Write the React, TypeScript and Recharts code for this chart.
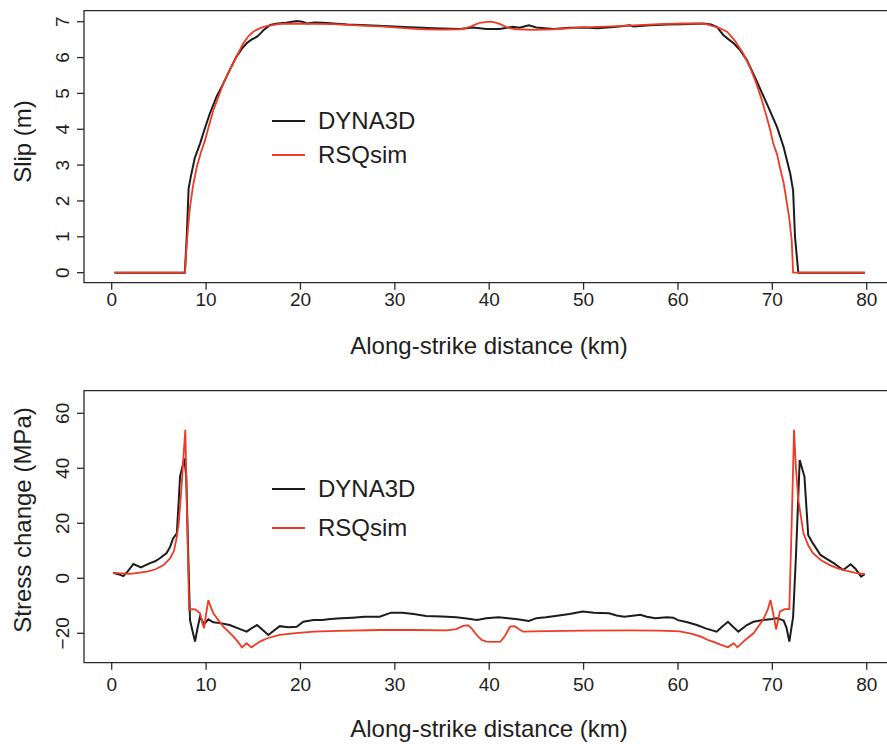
import React from 'react';
import { LineChart, Line, XAxis, YAxis, ReferenceArea, Legend } from 'recharts';

// ---------- data ----------
const xTicks = [0, 10, 20, 30, 40, 50, 60, 70, 80];
const slipTicks = [0, 1, 2, 3, 4, 5, 6, 7];
const stressTicks = [-20, 0, 20, 40, 60];
const seriesNames = ['DYNA3D', 'RSQsim'];

const slipDynaKm = [0.3, 7.75, 7.95, 8.15, 8.4, 8.8, 9.36, 9.9, 10.4, 11.1, 11.83, 12.5, 13.2, 13.8, 14.3, 14.8, 15.4, 15.8, 16.1, 16.8, 17.6, 18.5, 19.6, 20.2, 20.7, 21.5, 22.4, 23.5, 25, 27, 28.8, 31, 34.1, 36.9, 38.3, 39.7, 41.1, 42.5, 43.2, 44.2, 45, 46.8, 48.5, 50, 51.5, 53.5, 54.9, 55.3, 57, 58.9, 60.4, 62.7, 63.5, 64.1, 64.8, 65.4, 65.9, 66.6, 67.3, 68.3, 69.4, 70.5, 71.2, 71.9, 72.2, 72.4, 72.75, 79.8];
const slipDynaM = [0, 0, 1.0, 2.35, 2.7, 3.2, 3.6, 4.05, 4.44, 4.9, 5.28, 5.65, 6.02, 6.25, 6.4, 6.5, 6.58, 6.68, 6.77, 6.91, 6.95, 6.97, 7.02, 7.0, 6.95, 6.98, 6.97, 6.95, 6.92, 6.9, 6.88, 6.85, 6.82, 6.8, 6.84, 6.8, 6.8, 6.86, 6.83, 6.9, 6.84, 6.8, 6.83, 6.84, 6.82, 6.86, 6.9, 6.87, 6.9, 6.92, 6.93, 6.95, 6.92, 6.86, 6.63, 6.5, 6.4, 6.2, 5.93, 5.37, 4.72, 4.06, 3.5, 2.76, 2.29, 1.0, 0, 0];

const slipRsqKm = [0.3, 7.77, 7.9, 8.1, 8.3, 8.6, 9.01, 9.45, 9.89, 10.3, 10.77, 11.3, 11.83, 12.35, 12.88, 13.4, 13.95, 14.5, 15.0, 15.7, 16.4, 17.8, 19.5, 21.4, 23.5, 26, 28.8, 31, 33, 35, 36.9, 37.5, 38.0, 38.5, 39.0, 39.6, 40.1, 40.6, 41.1, 41.5, 41.9, 42.4, 42.9, 44.7, 46.8, 50, 53, 55.3, 58, 60.6, 62, 63, 63.7, 64.4, 65.2, 66.0, 66.9, 67.6, 68.3, 68.9, 69.4, 69.8, 70.1, 70.5, 70.8, 71.2, 71.5, 71.8, 72.05, 72.2, 79.8];
const slipRsqM = [0, 0, 0.6, 1.3, 1.83, 2.4, 2.94, 3.35, 3.69, 4.1, 4.53, 4.9, 5.28, 5.58, 5.84, 6.12, 6.4, 6.6, 6.72, 6.82, 6.88, 6.94, 6.95, 6.94, 6.93, 6.9, 6.86, 6.82, 6.79, 6.78, 6.79, 6.82, 6.86, 6.92, 6.97, 6.99, 7.0, 6.98, 6.94, 6.89, 6.84, 6.81, 6.79, 6.77, 6.79, 6.84, 6.87, 6.9, 6.93, 6.95, 6.95, 6.93, 6.88, 6.82, 6.72, 6.48, 6.12, 5.75, 5.28, 4.8, 4.34, 3.95, 3.6, 3.3, 2.94, 2.5, 2.01, 1.5, 0.9, 0, 0];

const stressDynaKm = [0.17, 0.7, 1.23, 1.7, 2.3, 3.1, 3.6, 4.06, 4.6, 5.1, 5.8, 6.2, 6.5, 6.9, 7.1, 7.24, 7.7, 7.9, 8.1, 8.3, 8.55, 8.83, 9.1, 9.36, 9.78, 10.24, 10.77, 11.5, 12.5, 13.4, 14.3, 14.8, 15.4, 16.0, 16.6, 17.2, 17.8, 18.7, 19.6, 20.3, 21.4, 22.3, 23.2, 24.3, 25.5, 26.8, 28.4, 29.6, 30.8, 32, 33.3, 35, 36.5, 37.6, 38.7, 39.7, 41.0, 42, 43.0, 44.2, 45.0, 46, 47.0, 48.5, 49.9, 51.1, 52.7, 53.5, 54.3, 55.2, 56.0, 56.7, 57.6, 58.8, 59.5, 60.0, 61, 62.0, 63, 64.1, 64.7, 65.3, 65.8, 66.4, 67.3, 68.0, 69.0, 70.0, 70.5, 71.2, 71.5, 71.8, 72.2, 72.5, 72.9, 73.4, 73.8, 74.3, 75.1, 75.8, 76.5, 77.0, 77.5, 78.3, 78.8, 79.4, 79.8];
const stressDynaMPa = [2.0, 1.5, 0.8, 2.5, 5.2, 4.0, 4.8, 5.5, 6.2, 7.3, 9.1, 11.5, 14.5, 16.3, 28, 37, 43.6, 37, 10, -15.2, -19, -23, -18, -14, -16.7, -14.9, -16, -16.3, -17, -18.2, -19.4, -18.2, -17, -18.8, -20.6, -19, -17.4, -17.8, -17.6, -15.8, -15.2, -15.2, -14.8, -14.5, -14.3, -14, -14, -12.5, -12.5, -13, -13.7, -13.9, -14.2, -14.6, -15.2, -14.5, -14.2, -14.5, -14.9, -15.5, -14.5, -14.2, -13.7, -13, -12.1, -12.5, -12.7, -13.5, -14, -13.6, -13.3, -14, -14.5, -14.2, -14.3, -15.2, -16, -17, -18.3, -19.4, -17.5, -15.8, -17.5, -19.4, -17, -15.8, -15.2, -14.8, -14.5, -15.4, -18, -23, -14, 7.9, 43, 37, 15.7, 12.7, 8.5, 7, 5.5, 4.3, 3, 5.1, 3.5, 0.6, 1.5];

const stressRsqKm = [0.17, 1.0, 1.94, 2.8, 3.7, 4.6, 5.5, 6.2, 6.6, 6.9, 7.1, 7.24, 7.45, 7.6, 7.8, 7.97, 8.2, 8.5, 8.83, 9.1, 9.36, 9.6, 9.78, 10.0, 10.24, 10.5, 10.77, 11.3, 11.83, 12.4, 12.9, 13.4, 13.8, 14.3, 14.8, 15.2, 15.7, 16.5, 17.8, 19.5, 21.4, 24, 28.4, 32, 35.5, 36.5, 37.3, 37.8, 38.2, 38.7, 39.2, 39.7, 40.5, 41.2, 41.7, 42.2, 42.7, 43.2, 43.6, 46, 50, 55, 58, 60.2, 61.5, 62.5, 63.3, 63.7, 64.5, 65.3, 65.9, 66.3, 67.1, 68.0, 69.0, 69.5, 69.8, 70.1, 70.4, 70.8, 71.3, 71.8, 72.05, 72.3, 72.5, 72.75, 73.3, 73.8, 74.3, 75.2, 76.1, 77.0, 77.9, 78.8, 79.8];
const stressRsqMPa = [2.0, 1.8, 1.6, 2.0, 2.4, 3.2, 4.8, 7.3, 10, 15.1, 20, 26, 36, 44, 54, 26, -11.5, -11.2, -11.3, -12, -12.7, -16, -18.2, -13, -7.9, -10.5, -12.7, -15.2, -17.6, -19.5, -21.2, -23.2, -25.1, -23.6, -25.1, -24.2, -23, -21.8, -20.6, -19.9, -19.4, -19.1, -18.8, -18.8, -18.9, -18.5, -17.2, -17.1, -18.5, -20.8, -22.4, -23.0, -23.1, -23.0, -20.8, -17.6, -17.4, -18.6, -19.4, -19.2, -19.0, -18.9, -19, -19.3, -20.2, -21.3, -22.6, -23, -24.1, -25.1, -23.6, -25.1, -22.5, -20, -15.2, -11.5, -7.9, -13, -18.6, -12.1, -11.2, -11.2, 20, 54, 40, 28.5, 16.4, 12, 9.1, 6.5, 4.8, 3.5, 2.7, 2.0, 1.5];

// ---------- helpers ----------
const pts = (xs: number[], ys: number[]) => xs.map((x, i) => ({ x, y: ys[i] }));

const FONT = '"Liberation Sans", Arial, Helvetica, sans-serif';
const BLACK = '#1c1c1c';
const RED = '#ef3a26';
const TXT = '#1e1e1e';

const xDomain: [number, number] = [-2.935, 82.89];
const slipDomain: [number, number] = [-0.28, 7.307];
const stressDomain: [number, number] = [-30.69, 68.22];

const fmt = (v: number) => (v < 0 ? '\u2212' + Math.abs(v) : String(v));

const RotTick = (props: any) => {
  const { x, y, payload } = props;
  return (
    <text
      x={x}
      y={y}
      transform={`rotate(-90 ${x} ${y})`}
      textAnchor="middle"
      dominantBaseline="central"
      fontSize={19}
      fontFamily={FONT}
      fill={TXT}
    >
      {fmt(payload.value)}
    </text>
  );
};

const XTick = (props: any) => {
  const { x, y, payload } = props;
  return (
    <text x={x} y={y} dy="0.71em" textAnchor="middle" fontSize={19} fontFamily={FONT} fill={TXT}>
      {fmt(payload.value)}
    </text>
  );
};

const LegendBox = ({ rowH }: { rowH: number }) => (
  <div style={{ fontFamily: FONT, fontSize: 24, color: TXT }}>
    {seriesNames.map((n, i) => (
      <div key={n} style={{ display: 'flex', alignItems: 'center', height: rowH }}>
        <span
          style={{
            display: 'inline-block',
            width: 33,
            height: 2,
            background: i === 0 ? BLACK : RED,
            marginRight: 13,
          }}
        />
        <span style={{ lineHeight: `${rowH}px` }}>{n}</span>
      </div>
    ))}
  </div>
);

type PanelProps = {
  height: number;
  xAxisHeight: number;
  xTickMargin: number;
  yDomain: [number, number];
  yTicks: number[];
  yTitle: string;
  yTitleY: number;
  xTitleY: number;
  legendTop: number;
  legendRow: number;
  dyna: { x: number; y: number }[];
  rsq: { x: number; y: number }[];
};

const Panel = (p: PanelProps) => (
  <LineChart width={900} height={p.height} margin={{ top: 10.7, right: 6, bottom: 0, left: 0 }}>
    <ReferenceArea
      x1={xDomain[0]}
      x2={xDomain[1]}
      y1={p.yDomain[0]}
      y2={p.yDomain[1]}
      fill="none"
      stroke="#2a2a2a"
      strokeWidth={1.3}
      ifOverflow="visible"
    />
    <XAxis
      dataKey="x"
      type="number"
      domain={xDomain}
      ticks={xTicks}
      allowDataOverflow
      height={p.xAxisHeight}
      tickSize={7}
      tickMargin={p.xTickMargin}
      axisLine={false}
      tickLine={{ stroke: '#2a2a2a', strokeWidth: 1.3 }}
      tick={<XTick />}
      interval={0}
      label={{
        content: () => (
          <text x={489} y={p.xTitleY} textAnchor="middle" fontSize={24} fontFamily={FONT} fill={TXT}>
            Along-strike distance (km)
          </text>
        ),
      }}
    />
    <YAxis
      type="number"
      domain={p.yDomain}
      ticks={p.yTicks}
      allowDataOverflow
      width={84}
      tickSize={7}
      tickMargin={14}
      axisLine={false}
      tickLine={{ stroke: '#2a2a2a', strokeWidth: 1.3 }}
      tick={<RotTick />}
      interval={0}
      label={{
        content: () => (
          <text
            x={31}
            y={p.yTitleY}
            transform={`rotate(-90 31 ${p.yTitleY})`}
            textAnchor="middle"
            fontSize={24}
            fontFamily={FONT}
            fill={TXT}
          >
            {p.yTitle}
          </text>
        ),
      }}
    />
    <Legend
      layout="vertical"
      align="center"
      verticalAlign="middle"
      content={() => <LegendBox rowH={p.legendRow} />}
      wrapperStyle={{ left: 272, top: p.legendTop, width: 200, bottom: 'auto', right: 'auto' }}
    />
    <Line
      data={p.dyna}
      dataKey="y"
      name={seriesNames[0]}
      type="linear"
      stroke={BLACK}
      strokeWidth={2}
      dot={false}
      isAnimationActive={false}
    />
    <Line
      data={p.rsq}
      dataKey="y"
      name={seriesNames[1]}
      type="linear"
      stroke={RED}
      strokeWidth={1.8}
      dot={false}
      isAnimationActive={false}
    />
  </LineChart>
);

export default function App() {
  return (
    <div
      style={{
        position: 'absolute',
        left: 0,
        top: 0,
        width: 887,
        height: 744,
        overflow: 'hidden',
        background: '#fff',
      }}
    >
      <div style={{ position: 'absolute', left: 0, top: 0 }}>
        <Panel
          height={372}
          xAxisHeight={89.3}
          xTickMargin={3}
          yDomain={slipDomain}
          yTicks={slipTicks}
          yTitle="Slip (m)"
          yTitleY={141.5}
          xTitleY={354}
          legendTop={104}
          legendRow={34}
          dyna={pts(slipDynaKm, slipDynaM)}
          rsq={pts(slipRsqKm, slipRsqM)}
        />
      </div>
      <div style={{ position: 'absolute', left: 0, top: 380 }}>
        <Panel
          height={364}
          xAxisHeight={81.3}
          xTickMargin={8}
          yDomain={stressDomain}
          yTicks={stressTicks}
          yTitle="Stress change (MPa)"
          yTitleY={140}
          xTitleY={357}
          legendTop={89}
          legendRow={39}
          dyna={pts(stressDynaKm, stressDynaMPa)}
          rsq={pts(stressRsqKm, stressRsqMPa)}
        />
      </div>
    </div>
  );
}
